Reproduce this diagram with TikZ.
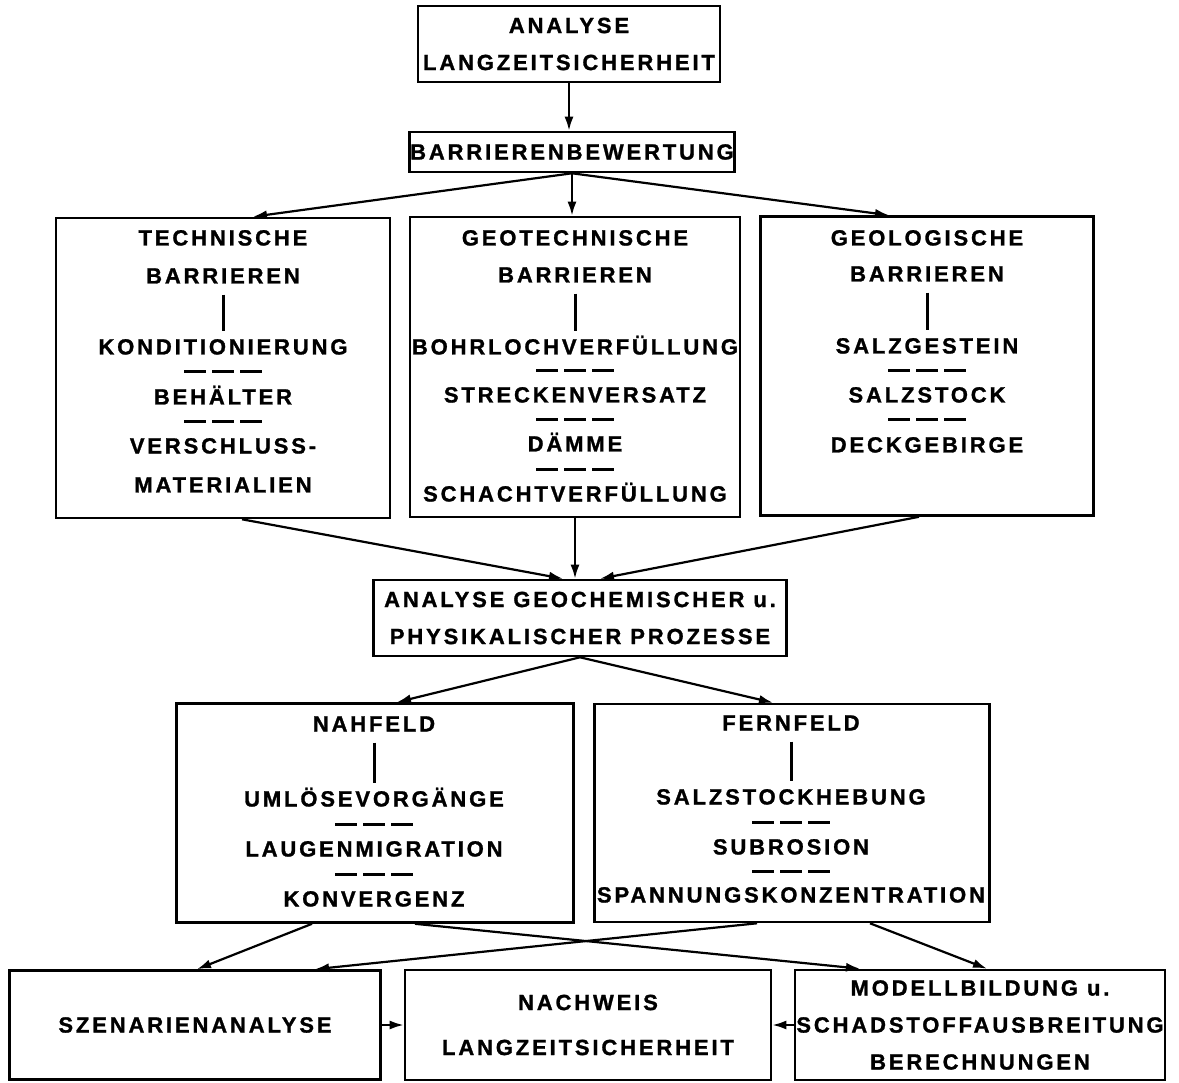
\documentclass[tikz,border=0pt]{standalone}
\usepackage{fontspec}
\usepackage{tikz}
\usetikzlibrary{arrows.meta,calc}
\newfontfamily\schrift[LetterSpace=13,FakeBold=1.2]{Liberation Sans}
\newcommand{\schriftgr}{\schrift\bfseries\fontsize{22}{37}\selectfont}
\tikzset{
  kasten/.style={
    draw,
    line width=2.6pt,
    align=center,
    inner sep=0pt,
    font=\schriftgr
  },
  zeile/.style={
    inner sep=0pt,
    text height=15pt,
    text depth=0pt,
    font=\schriftgr
  },
  pfeil/.style={-{Latex[length=14pt,width=9pt]}, line width=2.2pt},
  strich/.style={line width=3pt, shorten <=11pt, shorten >=8pt},
  trenner/.style={line width=3pt, dash pattern=on 22pt off 6pt}
}

\begin{document}
\begin{tikzpicture}[x=1pt,y=-1pt]
  \path[fill=white] (0,0) rectangle (1179,1083);

  % obere Kaesten
  \node[kasten, minimum width=302pt, minimum height=76pt] (analyse) at (569,44) {ANALYSE\\LANGZEITSICHERHEIT};
  \node[kasten, minimum width=325pt, minimum height=40pt] (bewertung) at (572,152) {BARRIERENBEWERTUNG};

  % Barrieren
  \node[kasten, minimum width=334pt, minimum height=300pt] (technisch) at (223,368) {};
  \node[kasten, minimum width=330pt, minimum height=300pt] (geotech) at (575,367) {};
  \node[kasten, minimum width=333pt, minimum height=299pt] (geolog) at (927,366) {};

  \node[zeile] (tech1) at (223,238) {TECHNISCHE};
  \node[zeile] (tech2) at (223,276) {BARRIEREN};
  \node[zeile] (tech3) at (223,347) {KONDITIONIERUNG};
  \node[zeile] (tech4) at (223,397) {BEHÄLTER};
  \node[zeile] (tech5) at (223,446) {VERSCHLUSS-};
  \node[zeile] (tech6) at (223,485) {MATERIALIEN};

  \node[zeile] (geot1) at (575,238) {GEOTECHNISCHE};
  \node[zeile] (geot2) at (575,275) {BARRIEREN};
  \node[zeile] (geot3) at (575,347) {BOHRLOCHVERFÜLLUNG};
  \node[zeile] (geot4) at (575,395) {STRECKENVERSATZ};
  \node[zeile] (geot5) at (575,444) {DÄMME};
  \node[zeile] (geot6) at (575,494) {SCHACHTVERFÜLLUNG};

  \node[zeile] (geol1) at (927,238) {GEOLOGISCHE};
  \node[zeile] (geol2) at (927,274) {BARRIEREN};
  \node[zeile] (geol3) at (927,346) {SALZGESTEIN};
  \node[zeile] (geol4) at (927,395) {SALZSTOCK};
  \node[zeile] (geol5) at (927,445) {DECKGEBIRGE};

  \draw[strich] (tech2.south) -- (tech3.north);
  \draw[strich] (geot2.south) -- (geot3.north);
  \draw[strich] (geol2.south) -- (geol3.north);

  \draw[trenner] ($(tech3)!0.5!(tech4)+(-39,0)$) -- ++(78,0);
  \draw[trenner] ($(tech4)!0.5!(tech5)+(-39,0)$) -- ++(78,0);
  \draw[trenner] ($(geot3)!0.5!(geot4)+(-39,0)$) -- ++(78,0);
  \draw[trenner] ($(geot4)!0.5!(geot5)+(-39,0)$) -- ++(78,0);
  \draw[trenner] ($(geot5)!0.5!(geot6)+(-39,0)$) -- ++(78,0);
  \draw[trenner] ($(geol3)!0.5!(geol4)+(-39,0)$) -- ++(78,0);
  \draw[trenner] ($(geol4)!0.5!(geol5)+(-39,0)$) -- ++(78,0);

  % Prozesse
  \node[kasten, minimum width=413pt, minimum height=76pt] (prozesse) at (580,618) {ANALYSE GEOCHEMISCHER u.\\PHYSIKALISCHER PROZESSE};

  \node[kasten, minimum width=397pt, minimum height=219pt] (nahfeld) at (375,813) {};
  \node[kasten, minimum width=395pt, minimum height=218pt] (fernfeld) at (792,813) {};

  \node[zeile] (nah1) at (374,724) {NAHFELD};
  \node[zeile] (nah2) at (374,799) {UMLÖSEVORGÄNGE};
  \node[zeile] (nah3) at (374,849) {LAUGENMIGRATION};
  \node[zeile] (nah4) at (374,899) {KONVERGENZ};

  \node[zeile] (fern1) at (791,723) {FERNFELD};
  \node[zeile] (fern2) at (791,797) {SALZSTOCKHEBUNG};
  \node[zeile] (fern3) at (791,847) {SUBROSION};
  \node[zeile] (fern4) at (791,895) {SPANNUNGSKONZENTRATION};

  \draw[strich] (nah1.south) -- (nah2.north);
  \draw[strich] (fern1.south) -- (fern2.north);

  \draw[trenner] ($(nah2)!0.5!(nah3)+(-39,0)$) -- ++(78,0);
  \draw[trenner] ($(nah3)!0.5!(nah4)+(-39,0)$) -- ++(78,0);
  \draw[trenner] ($(fern2)!0.5!(fern3)+(-39,0)$) -- ++(78,0);
  \draw[trenner] ($(fern3)!0.5!(fern4)+(-39,0)$) -- ++(78,0);

  % untere Kaesten
  \node[kasten, minimum width=371pt, minimum height=109pt] (szenarien) at (195,1025) {SZENARIENANALYSE};
  \node[kasten, minimum width=366pt, minimum height=110pt] (nachweis) at (588,1025) {NACHWEIS\\[8pt]LANGZEITSICHERHEIT};
  \node[kasten, minimum width=370pt, minimum height=110pt] (modell) at (980,1025) {MODELLBILDUNG u.\\SCHADSTOFFAUSBREITUNG\\BERECHNUNGEN};

  % Pfeile
  \draw[pfeil] (analyse.south) -- (analyse.south |- bewertung.north);
  \draw[pfeil] (bewertung.south) -- ($(technisch.north)+(30,0)$);
  \draw[pfeil] (bewertung.south) -- (bewertung.south |- geotech.north);
  \draw[pfeil] (bewertung.south) -- ($(geolog.north)+(-38,0)$);

  \draw[pfeil] ($(technisch.south)+(19,0)$) -- ($(prozesse.north)+(-17,0)$);
  \draw[pfeil] (geotech.south) -- (geotech.south |- prozesse.north);
  \draw[pfeil] ($(geolog.south)+(-8,0)$) -- ($(prozesse.north)+(20,0)$);

  \draw[pfeil] (prozesse.south) -- ($(nahfeld.north)+(22,0)$);
  \draw[pfeil] (prozesse.south) -- ($(fernfeld.north)+(-19,0)$);

  \draw[pfeil] ($(nahfeld.south)+(-63,0)$) -- ($(szenarien.north)+(2,0)$);
  \draw[pfeil] ($(nahfeld.south)+(40,0)$) -- ($(modell.north)+(-120,0)$);
  \draw[pfeil] ($(fernfeld.south)+(-35,0)$) -- ($(szenarien.north)+(120,0)$);
  \draw[pfeil] ($(fernfeld.south)+(78,0)$) -- ($(modell.north)+(7,0)$);

  \draw[pfeil] (szenarien.east) -- (nachweis.west);
  \draw[pfeil] (modell.west) -- (nachweis.east);
\end{tikzpicture}
\end{document}
